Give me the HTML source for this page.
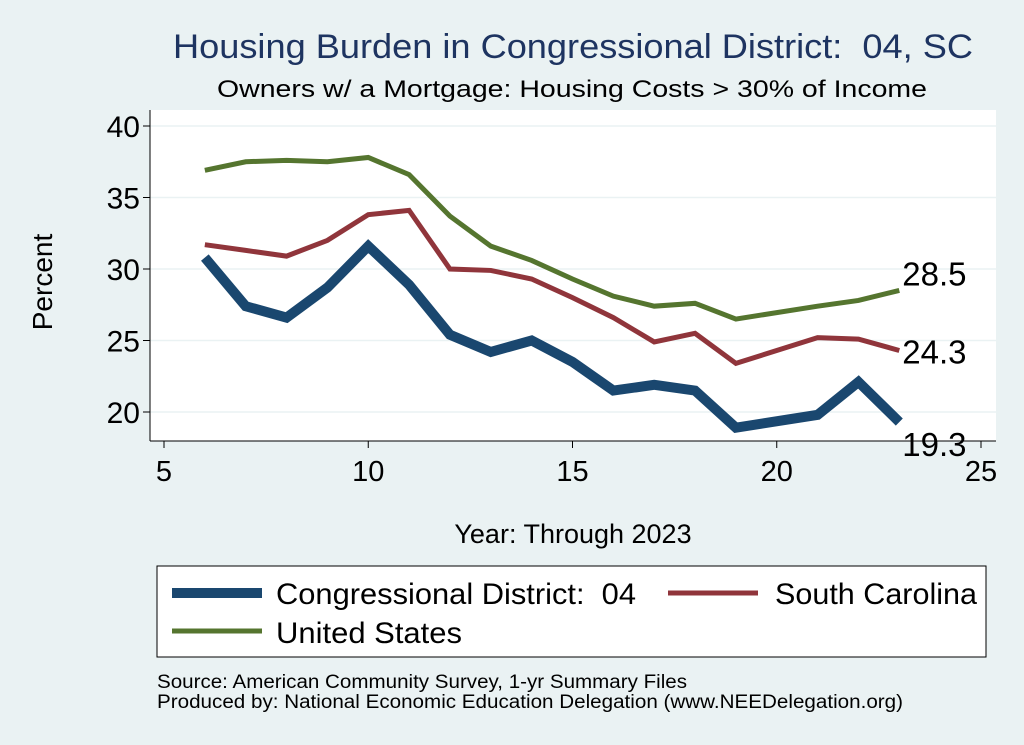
<!DOCTYPE html>
<html><head><meta charset="utf-8"><style>
body{margin:0;background:#eaf2f3;}
svg{display:block;font-family:"Liberation Sans",sans-serif;}
text{white-space:pre;}
</style></head><body>
<svg id="chart" width="1024" height="745">
<rect x="0" y="0" width="1024" height="745" fill="#eaf2f3"/>
<text x="173" y="58" font-size="34" fill="#1e3461" textLength="800" lengthAdjust="spacingAndGlyphs">Housing Burden in Congressional District:  04, SC</text>
<text x="217" y="97" font-size="24" fill="#000" textLength="710" lengthAdjust="spacingAndGlyphs">Owners w/ a Mortgage: Housing Costs &gt; 30% of Income</text>
<rect x="150" y="110" width="846" height="331" fill="#fff"/>
<g id="grid"></g>
<g id="axes"></g>
<g id="series"></g>
<text x="52" y="282" font-size="28" text-anchor="middle" transform="rotate(-90 52 282)">Percent</text>
<text x="573" y="543" font-size="27" text-anchor="middle">Year: Through 2023</text>
<g>
<rect x="157" y="566" width="829" height="91" fill="#fff" stroke="#000" stroke-width="1"/>
<line x1="172" y1="593" x2="262" y2="593" stroke="#1a476f" stroke-width="10"/>
<text x="276" y="604" font-size="30" textLength="360" lengthAdjust="spacingAndGlyphs">Congressional District:  04</text>
<line x1="668" y1="593" x2="758" y2="593" stroke="#90353b" stroke-width="5"/>
<text x="775" y="604" font-size="30" textLength="202" lengthAdjust="spacingAndGlyphs">South Carolina</text>
<line x1="172" y1="631" x2="262" y2="631" stroke="#55752f" stroke-width="5"/>
<text x="276" y="643" font-size="30" textLength="186" lengthAdjust="spacingAndGlyphs">United States</text>
</g>
<text x="157" y="688" font-size="19" textLength="530" lengthAdjust="spacingAndGlyphs">Source: American Community Survey, 1-yr Summary Files</text>
<text x="157" y="708" font-size="19" textLength="746" lengthAdjust="spacingAndGlyphs">Produced by: National Economic Education Delegation (www.NEEDelegation.org)</text>
</svg>
<script>
const years=[6,7,8,9,10,11,12,13,14,15,16,17,18,19,21,22,23];
const district=[30.8,27.4,26.6,28.7,31.6,28.9,25.4,24.2,25.0,23.5,21.5,21.9,21.5,18.9,19.8,22.1,19.3];
const southCarolina=[31.7,31.3,30.9,32.0,33.8,34.1,30.0,29.9,29.3,28.0,26.6,24.9,25.5,23.4,25.2,25.1,24.3];
const unitedStates=[36.9,37.5,37.6,37.5,37.8,36.6,33.7,31.6,30.6,29.3,28.1,27.4,27.6,26.5,27.4,27.8,28.5];
const xTicks=[5,10,15,20,25];
const yTicks=[20,25,30,35,40];
const NS="http://www.w3.org/2000/svg";
function xs(v){return 164+(v-5)*40.85;}
function ys(v){return 412-(v-20)*14.3;}
function mk(t,a,p){const e=document.createElementNS(NS,t);for(const k in a)e.setAttribute(k,a[k]);p.appendChild(e);return e;}
const grid=document.getElementById('grid'),axes=document.getElementById('axes'),ser=document.getElementById('series');
mk('line',{x1:150,y1:110,x2:150,y2:441,stroke:'#000','stroke-width':1},axes);
mk('line',{x1:150,y1:441,x2:996,y2:441,stroke:'#000','stroke-width':1},axes);
yTicks.forEach(v=>{
 const g=mk('line',{x1:150,x2:996,y1:ys(v),y2:ys(v),stroke:'#eaf2f3','stroke-width':1.5},grid);
 
 
 mk('line',{x1:143,x2:150,y1:ys(v),y2:ys(v),stroke:'#000'},axes);
 const t=mk('text',{x:140,y:ys(v)+11,'font-size':30,'text-anchor':'end'},axes);t.textContent=v;
 
 
});
xTicks.forEach(v=>{
 mk('line',{x1:xs(v),x2:xs(v),y1:441,y2:448,stroke:'#000'},axes);
 const t=mk('text',{x:xs(v),y:481,'font-size':29,'text-anchor':'middle'},axes);t.textContent=v;
 
 
});
function line(data,color,w,name,dy){
 const d=years.map((y,i)=>(i?'L':'M')+xs(y)+' '+ys(data[i])).join(' ');
 const p=mk('path',{d:d,fill:'none',stroke:color,'stroke-width':w,'stroke-linejoin':'miter'},ser);
 
 
 const last=data[data.length-1];
 const t=mk('text',{x:xs(years[years.length-1])+3,y:ys(last)+dy,'font-size':33},ser);
 t.textContent=last.toFixed(1);
 
 
}
line(unitedStates,'#55752f',5,'line-united-states',-5);
line(southCarolina,'#90353b',5,'line-south-carolina',13);
line(district,'#1a476f',10,'line-district',34);
</script>
</body></html>
